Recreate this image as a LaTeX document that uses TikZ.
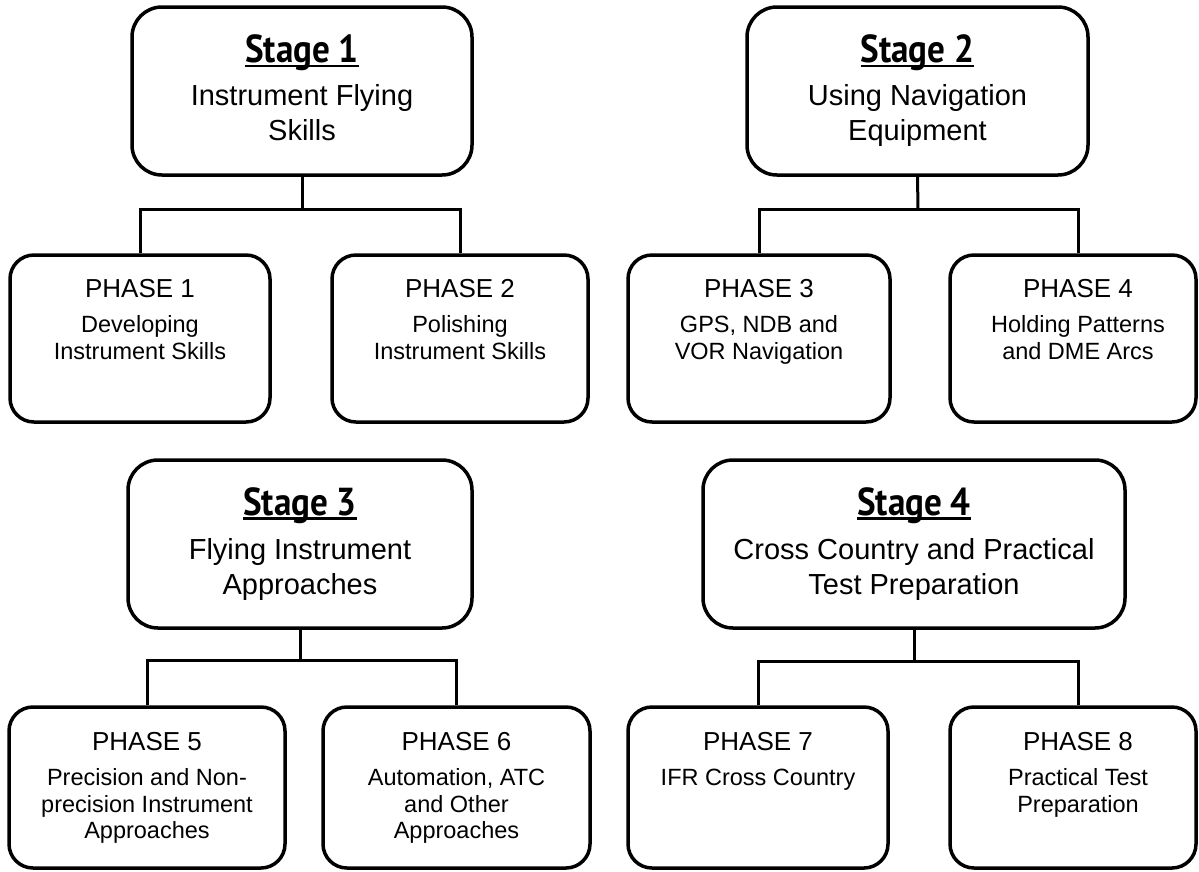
\documentclass[tikz,border=0pt]{standalone}
\usepackage{fontspec}
\setmainfont{Liberation Sans}
\newfontfamily\stagefont[FakeStretch=0.9]{PT Sans}
\usetikzlibrary{positioning}
\newcommand{\ulstage}[1]{\setbox0\hbox{#1}\rlap{\rule[-4.5pt]{\wd0}{2.8pt}}\box0}
\newcommand{\stagetitle}[1]{{\stagefont\bfseries\fontsize{39}{42}\selectfont\ulstage{#1}}}
\begin{document}
\begin{tikzpicture}[x=1pt,y=-1pt,
    stagebox/.style={draw, line width=3.5pt, rounded corners=30pt, align=center,
      inner sep=0pt, minimum height=168pt, font=\fontsize{29}{35}\selectfont},
    phasebox/.style={draw, line width=3.5pt, rounded corners=24pt, inner sep=0pt},
    phasetext/.style={align=center, inner sep=0pt, font=\fontsize{23.5}{26.5}\selectfont},
    link/.style={line width=3pt}]
  \useasboundingbox (0,0) rectangle (1199,871);
  % stages
  \node[stagebox, minimum width=340pt] (s1) at (302,91)
    {\stagetitle{Stage 1}\\[8pt]Instrument Flying\\Skills\vphantom{p}};
  \node[stagebox, minimum width=341pt] (s2) at (917.5,91)
    {\stagetitle{Stage 2}\\[8pt]Using Navigation\\Equipment};
  \node[stagebox, minimum width=344pt] (s3) at (300,544)
    {\stagetitle{Stage 3}\\[9pt]Flying Instrument\\Approaches};
  \node[stagebox, minimum width=422pt] (s4) at (914,544)
    {\stagetitle{Stage 4}\\[9pt]Cross Country and Practical\\Test Preparation};
  % phases
  \node[phasebox, minimum width=260pt, minimum height=167pt] (p1) at (140,338.5) {};
  \node[phasebox, minimum width=256pt, minimum height=167pt] (p2) at (460,338.5) {};
  \node[phasebox, minimum width=262pt, minimum height=167pt] (p3) at (759,338.5) {};
  \node[phasebox, minimum width=246pt, minimum height=167pt] (p4) at (1073,338.5) {};
  \node[phasebox, minimum width=276pt, minimum height=161pt] (p5) at (147,787.5) {};
  \node[phasebox, minimum width=267pt, minimum height=161pt] (p6) at (456.5,787.5) {};
  \node[phasebox, minimum width=260pt, minimum height=161pt] (p7) at (758,787.5) {};
  \node[phasebox, minimum width=246pt, minimum height=161pt] (p8) at (1073,787.5) {};
  \node[phasetext, below=26pt of p1.north] (t1)
    {{\fontsize{26}{30}\selectfont PHASE 1}\\[8.5pt]Developing\\Instrument Skills};
  \node[phasetext, below=26pt of p2.north] (t2)
    {{\fontsize{26}{30}\selectfont PHASE 2}\\[8.5pt]Polishing\\Instrument Skills};
  \node[phasetext, below=26pt of p3.north] (t3)
    {{\fontsize{26}{30}\selectfont PHASE 3}\\[8.5pt]GPS, NDB and\\VOR Navigation};
  \node[phasetext, below=26pt of {[xshift=5pt]p4.north}] (t4)
    {{\fontsize{26}{30}\selectfont PHASE 4}\\[8.5pt]Holding Patterns\\and DME Arcs};
  \node[phasetext, below=27pt of p5.north] (t5)
    {{\fontsize{26}{30}\selectfont PHASE 5}\\[8.5pt]Precision and Non-\\precision Instrument\\Approaches};
  \node[phasetext, below=27pt of p6.north] (t6)
    {{\fontsize{26}{30}\selectfont PHASE 6}\\[8.5pt]Automation, ATC\\and Other\\Approaches};
  \node[phasetext, below=27pt of p7.north] (t7)
    {{\fontsize{26}{30}\selectfont PHASE 7}\\[8.5pt]IFR Cross Country};
  \node[phasetext, below=27pt of {[xshift=5pt]p8.north}] (t8)
    {{\fontsize{26}{30}\selectfont PHASE 8}\\[8.5pt]Practical Test\\Preparation};
  % connectors
  \coordinate (j1) at (302,209);
  \coordinate (j2) at (918,209);
  \coordinate (j3) at (300,660);
  \coordinate (j4) at (914,661);
  \draw[link] (s1.south) -- (j1);
  \draw[link] (s2.south) -- (j2);
  \draw[link] (s3.south) -- (j3);
  \draw[link] (s4.south) -- (j4);
  \draw[link] (p1.north) |- (j1) -| (p2.north);
  \draw[link] (p3.north) |- (j2) -| ([xshift=5pt]p4.north);
  \draw[link] (p5.north) |- (j3) -| (p6.north);
  \draw[link] (p7.north) |- (j4) -| ([xshift=5pt]p8.north);
\end{tikzpicture}
\end{document}
